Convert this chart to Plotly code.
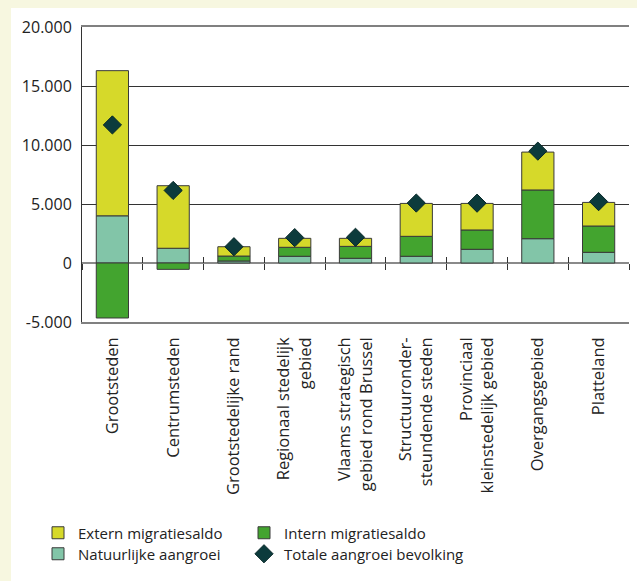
import plotly.graph_objects as go

categories = [
    "Grootsteden",
    "Centrumsteden",
    "Grootstedelijke rand",
    "Regionaal stedelijk<br>gebied",
    "Vlaams strategisch<br>gebied rond Brussel",
    "Structuuronder-<br>steundende steden",
    "Provinciaal<br>kleinstedelijk gebied",
    "Overgangsgebied",
    "Platteland",
]
natuurlijke_aangroei = [4000, 1250, 170, 570, 400, 570, 1160, 2060, 905]
intern_migratiesaldo = [-4660, -540, 420, 760, 1010, 1690, 1640, 4130, 2230]
extern_migratiesaldo = [12300, 5300, 790, 760, 680, 2790, 2250, 3210, 2000]
totale_aangroei = [11700, 6150, 1380, 2150, 2180, 5080, 5070, 9480, 5200]

y_tickvals = [-5000, 0, 5000, 10000, 15000, 20000]
y_ticktext = ["-5.000", "0", "5.000", "10.000", "15.000", "20.000"]

FONT = "Open Sans"
CREAM = "#F7F7E0"
OUTLINE = dict(color="#3a3a3a", width=1)

W, H = 637, 581
ML, MR, MT, MB = 82, 8, 27, 259
plot_w = W - ML - MR
plot_h = H - MT - MB

def px_to_xpaper(px):
    return (px - ML) / plot_w

def px_to_ypaper(py):
    return (H - MB - py) / plot_h

fig = go.Figure()
fig.add_trace(go.Bar(
    x=categories, y=natuurlijke_aangroei, name="Natuurlijke aangroei",
    marker=dict(color="#82C5A8", line=OUTLINE), legend="legend2", legendrank=1,
))
fig.add_trace(go.Bar(
    x=categories, y=intern_migratiesaldo, name="Intern migratiesaldo",
    marker=dict(color="#43A42F", line=OUTLINE), legend="legend", legendrank=2,
    legendwidth=230,
))
fig.add_trace(go.Bar(
    x=categories, y=extern_migratiesaldo, name="Extern migratiesaldo",
    marker=dict(color="#D6D92A", line=OUTLINE), legend="legend", legendrank=1,
))
fig.add_trace(go.Scatter(
    x=categories, y=totale_aangroei, name="Totale aangroei bevolking",
    mode="markers",
    marker=dict(symbol="diamond", size=14, color="#0C3B3C",
                line=dict(color="#082828", width=1)),
    legend="legend2", legendrank=2, legendwidth=230,
))

yr = [y_tickvals[0], y_tickvals[-1]]
zero_pos = (0 - yr[0]) / (yr[1] - yr[0])
n = len(categories)
boundaries = [i - 0.5 for i in range(n + 1)]

# invisible helper traces so the zero-line tick axes get drawn
for ax in ("x2", "x3"):
    fig.add_trace(go.Scatter(
        x=boundaries, y=[0] * len(boundaries), xaxis=ax, yaxis="y",
        mode="markers", marker=dict(opacity=0, size=1),
        showlegend=False, hoverinfo="skip",
    ))

legend_common = dict(
    orientation="h", xref="paper", yanchor="middle", xanchor="left",
    x=px_to_xpaper(38), entrywidth=161, traceorder="normal",
    font=dict(family=FONT, size=15, color="#222"),
    bgcolor="rgba(0,0,0,0)", itemclick=False,
)

fig.update_layout(
    width=W, height=H,
    margin=dict(l=ML, r=MR, t=MT, b=MB, pad=0, autoexpand=False),
    paper_bgcolor=CREAM,
    plot_bgcolor="white",
    barmode="relative",
    bargap=0.47,
    font=dict(family=FONT, size=15, color="#222"),
    showlegend=True,
    legend=dict(legend_common, y=px_to_ypaper(533)),
    legend2=dict(legend_common, y=px_to_ypaper(554)),
    xaxis=dict(
        type="category", range=[-0.5, n - 0.5],
        showline=True, linecolor="#808080", linewidth=1.5, mirror=True,
        ticks="", tickangle=-90, showgrid=False,
        tickfont=dict(family=FONT, size=16.5, color="#222"),
        ticklabelstandoff=7, automargin=False,
    ),
    xaxis2=dict(
        overlaying="x", anchor="free", position=zero_pos,
        range=[-0.5, n - 0.5], tickvals=boundaries, showticklabels=False,
        ticks="outside", ticklen=6, tickcolor="#333", tickwidth=1,
        showgrid=False, zeroline=False, showline=False,
    ),
    xaxis3=dict(
        overlaying="x", anchor="free", position=zero_pos,
        range=[-0.5, n - 0.5], tickvals=boundaries, showticklabels=False,
        ticks="inside", ticklen=6, tickcolor="#333", tickwidth=1,
        showgrid=False, zeroline=False, showline=False,
    ),
    yaxis=dict(
        range=yr, tickvals=y_tickvals, ticktext=y_ticktext,
        showline=True, linecolor="#333", linewidth=1,
        showgrid=True, gridcolor="#333", gridwidth=1,
        zeroline=True, zerolinecolor="#8a8a8a", zerolinewidth=1.5,
        ticks="", ticklabelstandoff=6, automargin=False,
        tickfont=dict(family=FONT, size=16, color="#222"),
    ),
    shapes=[dict(
        type="rect", xref="paper", yref="paper", layer="below",
        x0=px_to_xpaper(11), x1=px_to_xpaper(W + 5),
        y0=px_to_ypaper(H + 5), y1=px_to_ypaper(8),
        fillcolor="white", line=dict(width=0),
    )],
)

fig.write_html(
    "out.html",
    config={"displayModeBar": False},
    post_script="document.body.style.margin='0';document.body.style.overflow='hidden';",
)
